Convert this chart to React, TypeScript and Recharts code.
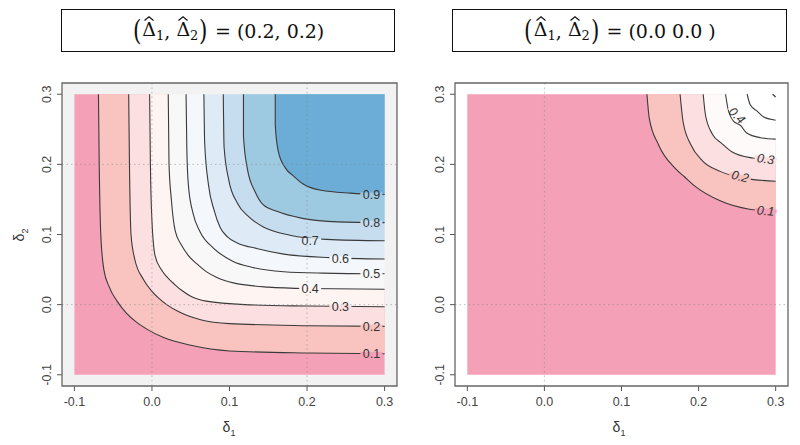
import React from "react";
import {
  ComposedChart,
  Area,
  Scatter,
  XAxis,
  YAxis,
  ReferenceArea,
  ReferenceLine,
  CartesianGrid,
} from "recharts";

type Pt = { x: number; y: number };
type Lbl = { level: number; x: number; y: number; angle: number };

const toPts = (a: number[][]): Pt[] => a.map(([x, y]) => ({ x, y }));

const axisTicks = [-0.1, 0.0, 0.1, 0.2, 0.3];
const contourLevels = [0.1, 0.2, 0.3, 0.4, 0.5, 0.6, 0.7, 0.8, 0.9];

// whole grid, lowest band
const baseRegion = [[-0.1, -0.1], [0.3, -0.1]];

// left panel: (0.2, 0.2)
const left01 = [[-0.069, 0.3], [-0.068, 0.2], [-0.066, 0.1], [-0.062, 0.05], [-0.055, 0.025], [-0.045, 0.005], [-0.033, -0.012], [-0.02, -0.025], [-0.005, -0.036], [0.015, -0.047], [0.05, -0.058], [0.1, -0.066], [0.2, -0.069], [0.3, -0.07]];
const left02 = [[-0.03, 0.3], [-0.029, 0.2], [-0.027, 0.1], [-0.022, 0.064], [-0.011, 0.036], [0.0, 0.019], [0.009, 0.009], [0.019, 0.0], [0.036, -0.011], [0.064, -0.022], [0.1, -0.027], [0.2, -0.03], [0.3, -0.031]];
const left03 = [[-0.003, 0.3], [-0.002, 0.2], [0.0, 0.12], [0.004, 0.07], [0.012, 0.05], [0.019, 0.04], [0.029, 0.029], [0.04, 0.019], [0.05, 0.012], [0.07, 0.005], [0.12, 0.0], [0.2, -0.002], [0.3, -0.003]];
const left04 = [[0.021, 0.3], [0.022, 0.2], [0.025, 0.15], [0.03, 0.105], [0.038, 0.085], [0.047, 0.07], [0.058, 0.058], [0.07, 0.047], [0.085, 0.038], [0.105, 0.031], [0.15, 0.025], [0.2, 0.023], [0.3, 0.022]];
const left05 = [[0.044, 0.3], [0.045, 0.22], [0.047, 0.17], [0.053, 0.13], [0.062, 0.104], [0.08, 0.08], [0.104, 0.062], [0.13, 0.053], [0.17, 0.047], [0.22, 0.045], [0.3, 0.044]];
const left06 = [[0.067, 0.3], [0.068, 0.23], [0.073, 0.17], [0.08, 0.135], [0.088, 0.11], [0.097, 0.097], [0.11, 0.088], [0.135, 0.08], [0.17, 0.072], [0.23, 0.067], [0.3, 0.065]];
const left07 = [[0.092, 0.3], [0.093, 0.225], [0.099, 0.178], [0.11, 0.145], [0.125, 0.125], [0.145, 0.11], [0.178, 0.099], [0.225, 0.093], [0.3, 0.091]];
const left08 = [[0.118, 0.3], [0.118, 0.24], [0.123, 0.194], [0.133, 0.161], [0.143, 0.143], [0.161, 0.133], [0.194, 0.123], [0.24, 0.118], [0.3, 0.117]];
const left09 = [[0.159, 0.3], [0.159, 0.256], [0.163, 0.218], [0.172, 0.195], [0.183, 0.183], [0.195, 0.172], [0.218, 0.163], [0.256, 0.159], [0.3, 0.157]];

const leftLabels: Lbl[] = [
  { level: 0.9, x: 0.283, y: 0.157, angle: 0 },
  { level: 0.8, x: 0.283, y: 0.117, angle: 0 },
  { level: 0.7, x: 0.204, y: 0.092, angle: 0 },
  { level: 0.6, x: 0.243, y: 0.066, angle: 0 },
  { level: 0.5, x: 0.283, y: 0.044, angle: 0 },
  { level: 0.4, x: 0.204, y: 0.023, angle: 0 },
  { level: 0.3, x: 0.243, y: -0.003, angle: 0 },
  { level: 0.2, x: 0.283, y: -0.031, angle: 0 },
  { level: 0.1, x: 0.283, y: -0.07, angle: 0 },
];

// right panel: (0.0, 0.0)
const right01 = [[0.133, 0.3], [0.136, 0.266], [0.148, 0.228], [0.17, 0.194], [0.182, 0.182], [0.194, 0.17], [0.228, 0.148], [0.266, 0.136], [0.3, 0.133]];
const right02 = [[0.176, 0.3], [0.18, 0.26], [0.19, 0.228], [0.205, 0.205], [0.228, 0.19], [0.26, 0.18], [0.3, 0.176]];
const right03 = [[0.206, 0.3], [0.209, 0.27], [0.218, 0.243], [0.23, 0.23], [0.243, 0.218], [0.27, 0.209], [0.3, 0.206]];
const right04 = [[0.235, 0.3], [0.238, 0.28], [0.245, 0.262], [0.255, 0.255], [0.262, 0.245], [0.28, 0.238], [0.3, 0.236]];
const right05 = [[0.263, 0.3], [0.267, 0.285], [0.276, 0.276], [0.285, 0.267], [0.3, 0.263]];
const right06 = [[0.296, 0.3], [0.3, 0.296]];

const rightLabels: Lbl[] = [
  { level: 0.1, x: 0.287, y: 0.134, angle: 5 },
  { level: 0.2, x: 0.254, y: 0.183, angle: 14 },
  { level: 0.3, x: 0.287, y: 0.208, angle: 8 },
  { level: 0.4, x: 0.25, y: 0.27, angle: 45 },
];

const leftFills = ["#f4a0b6", "#f9c4c0", "#fcdfe0", "#fef5f2", "#f8f8f8", "#f4f7fb", "#deebf6", "#c6dcef", "#9ecae1", "#6badd6"];
const rightFills = ["#f4a0b6", "#f9c4c0", "#fcdfe0", "#fffafa", "#ffffff", "#ffffff", "#ffffff"];

const DOMAIN: [number, number] = [-0.116, 0.316];
const SANS = "'Liberation Sans', Arial, sans-serif";
const SERIF = "'DejaVu Serif', 'Liberation Serif', serif";
const gridStroke = "rgba(130,130,130,0.5)";

const XTick = (props: any) => {
  const { x, y, payload } = props;
  return (
    <text x={x} y={y} dy="0.71em" textAnchor="middle" fontSize={12.5} fill="#444" fontFamily={SANS}>
      {payload.value.toFixed(1)}
    </text>
  );
};

const YTick = (props: any) => {
  const { x, y, payload } = props;
  return (
    <text x={x} y={y} textAnchor="middle" fontSize={12.5} fill="#444" fontFamily={SANS} transform={`rotate(-90 ${x} ${y})`}>
      {payload.value.toFixed(1)}
    </text>
  );
};

const makeLabelShape = (fills: string[], italic: boolean) => (props: any) => {
  const { cx, cy, payload } = props;
  const idx = contourLevels.indexOf(payload.level);
  return (
    <g transform={`rotate(${payload.angle} ${cx} ${cy})`}>
      <rect x={cx - 11} y={cy - 2} width={22} height={4} fill={fills[idx]} />
      <text x={cx} y={cy} dy="0.36em" textAnchor="middle" fontSize={12.5} fill="#333" fontFamily={SANS} fontStyle={italic ? "italic" : "normal"}>
        {payload.level.toFixed(1)}
      </text>
    </g>
  );
};

type PanelProps = {
  left: number;
  marginLeft: number;
  marginRight: number;
  curves: number[][][];
  fills: string[];
  labels: Lbl[];
  gridX: number[];
  gridY: number[];
  background: string;
  italic: boolean;
};

const ContourPanel = ({ left, marginLeft, marginRight, curves, fills, labels, gridX, gridY, background, italic }: PanelProps) => (
  <div style={{ position: "absolute", left, top: 0 }}>
    <ComposedChart
      width={400}
      height={445}
      margin={{ top: 83, right: marginRight, bottom: 19, left: marginLeft }}
    >
      <CartesianGrid horizontal={false} vertical={false} fill={background} />
      <XAxis
        type="number"
        dataKey="x"
        domain={DOMAIN}
        ticks={axisTicks}
        allowDataOverflow
        axisLine={false}
        tickSize={5}
        tickMargin={6}
        tickLine={{ stroke: "#555" }}
        tick={<XTick />}
        height={40}
      />
      <YAxis
        type="number"
        dataKey="y"
        domain={DOMAIN}
        ticks={axisTicks}
        allowDataOverflow
        axisLine={false}
        tickSize={5}
        tickMargin={6}
        tickLine={{ stroke: "#555" }}
        tick={<YTick />}
        width={30}
      />
      <Area
        data={toPts(baseRegion)}
        dataKey="y"
        type="linear"
        baseValue={0.3}
        fill={fills[0]}
        fillOpacity={1}
        stroke="none"
        isAnimationActive={false}
      />
      {curves.map((c, i) => (
        <Area
          key={i}
          data={toPts(c)}
          dataKey="y"
          type="monotone"
          baseValue={0.3}
          fill={fills[i + 1]}
          fillOpacity={1}
          stroke="#3a3a3a"
          strokeWidth={1.1}
          isAnimationActive={false}
        />
      ))}
      {gridX.map((v) => (
        <ReferenceLine key={"x" + v} x={v} stroke={gridStroke} strokeDasharray="1.5 3" zIndex={450} />
      ))}
      {gridY.map((v) => (
        <ReferenceLine key={"y" + v} y={v} stroke={gridStroke} strokeDasharray="1.5 3" zIndex={450} />
      ))}
      <ReferenceArea
        x1={DOMAIN[0]}
        x2={DOMAIN[1]}
        y1={DOMAIN[0]}
        y2={DOMAIN[1]}
        fill="none"
        fillOpacity={0}
        stroke="#666"
        strokeWidth={1.3}
        zIndex={700}
      />
      <Scatter
        data={labels}
        isAnimationActive={false}
        shape={makeLabelShape(fills, italic)}
      />
    </ComposedChart>
  </div>
);

// hat drawn as a small chevron so it does not sit as a second text on the delta
const HatDelta = ({ sub }: { sub: string }) => (
  <span style={{ display: "inline-block", position: "relative" }}>
    Δ
    <svg
      width={10}
      height={5}
      style={{ position: "absolute", left: 2, top: -2 }}
    >
      <polyline points="0.5,4.5 5,0.8 9.5,4.5" fill="none" stroke="#111" strokeWidth={1.2} />
    </svg>
    <sub style={{ fontSize: 13, verticalAlign: "-0.3em" }}>{sub}</sub>
  </span>
);

const TitleBox = ({ left, width, value }: { left: number; width: number; value: string }) => (
  <div
    style={{
      position: "absolute",
      left,
      top: 9,
      width,
      height: 43,
      boxSizing: "border-box",
      border: "1.5px solid #111",
      display: "flex",
      alignItems: "center",
      justifyContent: "center",
      fontFamily: SERIF,
      fontSize: 19,
      color: "#111",
      whiteSpace: "pre",
    }}
  >
    <span style={{ fontSize: 27, fontWeight: 300, transform: "scaleX(0.8)" }}>(</span>
    <HatDelta sub="1" />
    <span>, </span>
    <HatDelta sub="2" />
    <span style={{ fontSize: 27, fontWeight: 300, transform: "scaleX(0.8)" }}>)</span>
    <span>{" = " + value}</span>
  </div>
);

const AxisTitle = ({ x, y, sub, rotate }: { x: number; y: number; sub: string; rotate?: boolean }) => (
  <div
    style={{
      position: "absolute",
      left: x - 20,
      top: y - 10,
      width: 40,
      height: 20,
      textAlign: "center",
      lineHeight: "20px",
      fontFamily: SANS,
      fontSize: 14,
      color: "#333",
      transform: rotate ? "rotate(-90deg)" : undefined,
    }}
  >
    δ<sub style={{ fontSize: 9 }}>{sub}</sub>
  </div>
);

export default function App() {
  return (
    <div style={{ position: "absolute", left: 0, top: 0, width: 800, height: 445, background: "#fff" }}>
      <TitleBox left={61} width={334} value="(0.2, 0.2)" />
      <TitleBox left={452} width={335} value="(0.0 0.0 )" />
      <ContourPanel
        left={0}
        marginLeft={32}
        marginRight={3}
        curves={[left01, left02, left03, left04, left05, left06, left07, left08, left09]}
        fills={leftFills}
        labels={leftLabels}
        gridX={[0.0, 0.2]}
        gridY={[0.0, 0.2]}
        background="#f2f2f2"
        italic={false}
      />
      <ContourPanel
        left={400}
        marginLeft={25}
        marginRight={12}
        curves={[right01, right02, right03, right04, right05, right06]}
        fills={rightFills}
        labels={rightLabels}
        gridX={[0.0]}
        gridY={[0.0]}
        background="#ffffff"
        italic={true}
      />
      <AxisTitle x={229} y={427} sub="1" />
      <AxisTitle x={619} y={427} sub="1" />
      <AxisTitle x={19} y={235} sub="2" rotate />
    </div>
  );
}
